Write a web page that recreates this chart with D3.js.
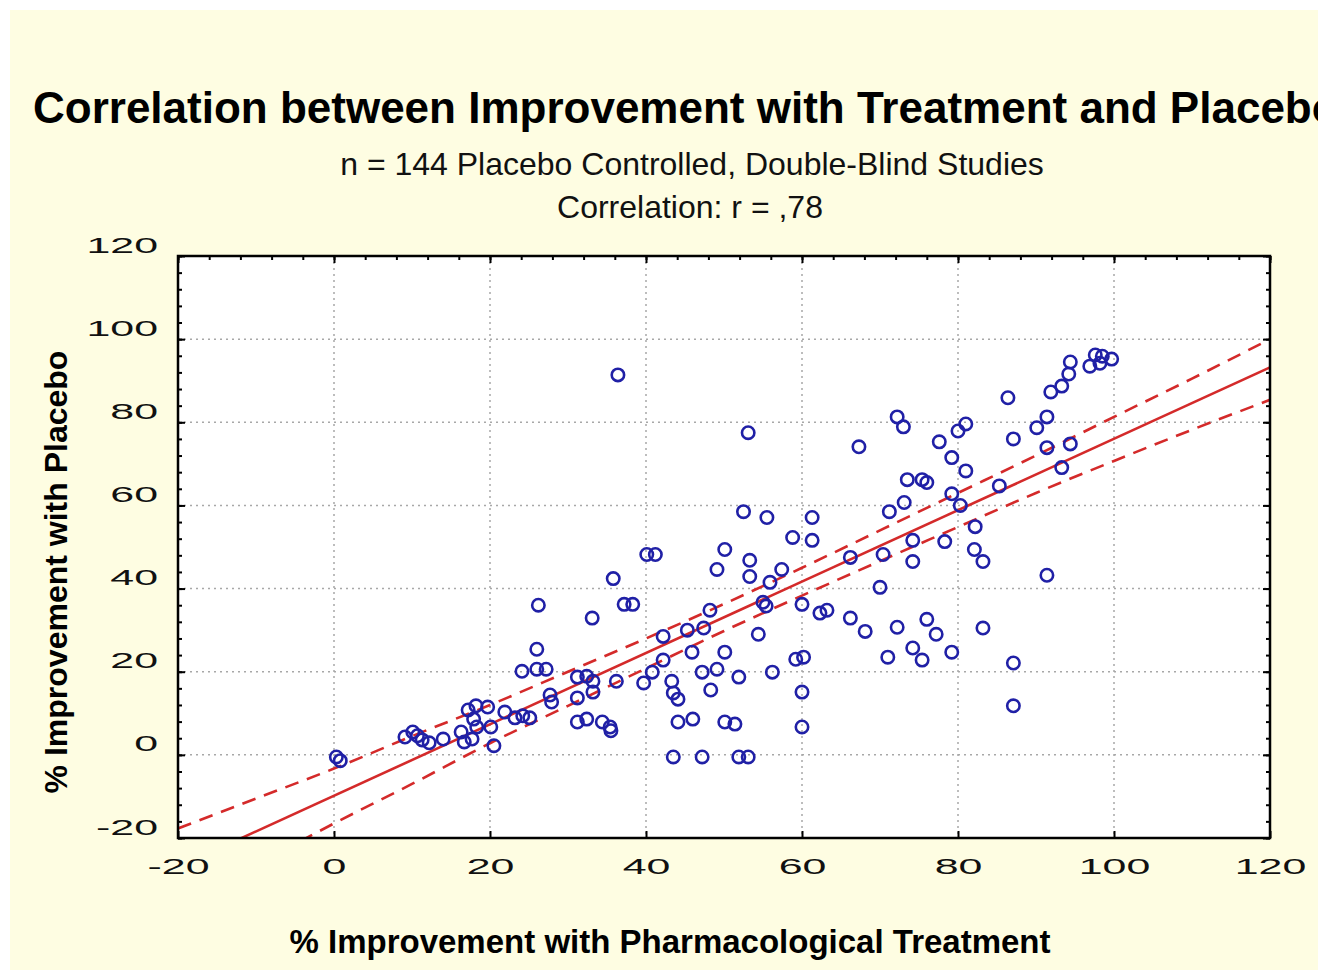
<!DOCTYPE html>
<html>
<head>
<meta charset="utf-8">
<script src="https://cdn.jsdelivr.net/npm/d3@7"></script>
<style>
  body { margin: 0; background: #fff; }
  svg { display: block; }
  text { font-family: "Liberation Sans", Arial, sans-serif; }
</style>
</head>
<body>
<svg id="chart" width="1332" height="970"></svg>
<script>
// % improvement with treatment (x) and with placebo (y)
var treatment = [0.3, 0.8, 9.1, 10.1, 10.7, 11.3, 12.2, 14.0, 16.3, 16.7, 17.2, 17.7, 17.9, 18.2, 18.3, 19.7,
  20.1, 20.5, 21.9, 23.2, 24.2, 25.1, 24.1, 26.0, 27.2, 26.0, 26.2, 27.7, 27.9,
  31.2, 32.4, 33.2, 33.2, 31.2, 31.2, 32.4, 34.4, 35.4, 35.5, 36.2, 35.8, 33.1, 37.2, 38.3, 36.4,
  40.1, 41.2, 39.7, 40.8, 42.2, 42.2, 43.3, 43.5, 44.1, 45.3, 47.4, 48.2, 45.9, 47.2, 49.1, 48.3,
  50.1, 44.1, 46.0, 50.1, 51.4, 43.5, 47.2, 51.9, 53.1, 49.1, 50.1,
  51.9, 53.1, 52.5, 55.5, 53.3, 53.3, 57.4, 55.9, 55.0, 55.4, 54.4, 56.2, 58.8, 59.2, 60.2, 60.0, 60.0, 60.0,
  61.3, 61.3, 62.3, 63.2, 66.2, 66.2, 67.3, 68.1, 70.0,
  70.4, 71.2, 71.0, 72.2, 72.2, 73.0, 73.5, 73.1, 74.2, 74.2, 74.2, 75.4, 75.4, 76.0, 76.0, 77.2, 77.6,
  78.3, 79.2, 79.2, 79.2,
  80.0, 81.0, 81.0, 80.3, 82.2, 82.1, 83.2, 83.2, 85.3, 86.4, 87.1, 87.1, 87.1, 90.1, 91.4, 91.4, 91.4,
  91.9, 93.3, 93.3, 94.4, 94.2, 94.4, 96.9, 97.6, 98.5, 98.2, 99.7];
var placebo = [-0.5, -1.4, 4.3, 5.5, 4.6, 3.6, 2.9, 3.8, 5.5, 3.1, 10.8, 3.8, 8.6, 11.8, 6.7, 11.5,
  6.7, 2.2, 10.3, 8.9, 9.4, 8.9, 20.1, 20.6, 20.6, 25.4, 36.0, 14.4, 12.7,
  18.7, 18.9, 17.7, 15.1, 13.7, 7.9, 8.6, 7.9, 6.7, 5.8, 17.7, 42.4, 32.9, 36.2, 36.2, 91.4,
  48.2, 48.2, 17.3, 19.9, 22.8, 28.5, 17.7, 14.9, 13.4, 30.0, 30.5, 34.8, 24.7, 19.9, 20.6, 15.6,
  24.7, 7.9, 8.6, 7.9, 7.4, -0.5, -0.5, -0.5, -0.5, 44.6, 49.4,
  18.7, 77.5, 58.5, 57.1, 46.8, 42.9, 44.6, 41.5, 36.7, 35.8, 29.0, 19.9, 52.3, 23.0, 23.5, 36.2, 15.1, 6.7,
  57.1, 51.6, 34.1, 34.8, 47.5, 32.9, 74.1, 29.7, 40.3,
  48.2, 58.5, 23.5, 30.7, 81.3, 78.9, 66.2, 60.7, 51.6, 46.5, 25.7, 22.8, 66.2, 65.5, 32.6, 29.0, 75.3,
  51.3, 71.5, 62.8, 24.7,
  77.9, 79.6, 68.3, 60.0, 54.9, 49.4, 46.5, 30.5, 64.7, 85.9, 76.0, 22.1, 11.8, 78.7, 81.3, 73.9, 43.2,
  87.3, 88.7, 69.1, 74.8, 91.6, 94.5, 93.5, 96.2, 95.9, 94.2, 95.2];

// regression line and its confidence band
var fitX = [-20, 120];
var fitY = [-27.0, 93.2];
var bandX = [-20, -10, 0, 10, 20, 30, 40, 50, 60, 70, 80, 90, 100, 110, 120];
var bandUpper = [-17.7, -10.5, -3.3, 4.5, 12.0, 20.0, 28.0, 36.3, 45.0, 54.0, 63.0, 72.0, 81.3, 90.5, 100.0];
var bandLower = [-36.5, -26.5, -16.5, -7.0, 2.8, 11.8, 20.8, 29.8, 38.3, 46.6, 54.8, 63.0, 70.7, 78.2, 85.4];

var xTicks = [-20, 0, 20, 40, 60, 80, 100, 120];
var yTicks = [-20, 0, 20, 40, 60, 80, 100, 120];

(function () {
  var svg = d3.select("#chart");
  var H = 970;
  var pl = 178, pr = 1270, pt = 256, pb = 838;

  var x = d3.scaleLinear().domain([-20, 120]).range([pl, pr]);
  var y = d3.scaleLinear().domain([-20, 120]).range([pb, pt]);

  var defs = svg.append("defs");
  defs.append("clipPath").attr("id", "panelClip")
    .append("rect").attr("x", 10).attr("y", 10).attr("width", 1308).attr("height", H - 10);
  defs.append("clipPath").attr("id", "plotClip")
    .append("rect").attr("x", pl).attr("y", pt).attr("width", pr - pl).attr("height", pb - pt);

  // cream panel
  svg.append("rect").attr("x", 10).attr("y", 10).attr("width", 1308).attr("height", H - 10)
    .attr("fill", "#fefde2");

  // title runs past the panel edge in the original, so it is clipped there
  var panel = svg.append("g").attr("clip-path", "url(#panelClip)");
  panel.append("text").attr("x", 33).attr("y", 123)
    .attr("font-size", 44).attr("font-weight", "bold").attr("fill", "#000")
    .text("Correlation between Improvement with Treatment and Placebo");
  panel.append("text").attr("x", 692).attr("y", 175).attr("text-anchor", "middle")
    .attr("font-size", 32).attr("fill", "#111")
    .text("n = 144 Placebo Controlled, Double-Blind Studies");
  panel.append("text").attr("x", 690).attr("y", 218).attr("text-anchor", "middle")
    .attr("font-size", 32).attr("fill", "#111")
    .text("Correlation: r = ,78");

  // plot area
  svg.append("rect").attr("x", pl).attr("y", pt).attr("width", pr - pl).attr("height", pb - pt)
    .attr("fill", "#fff");

  var grid = svg.append("g").attr("stroke", "#a8a8a8").attr("stroke-width", 1.5).attr("stroke-dasharray", "2,4");
  grid.selectAll("line.gx").data(xTicks.slice(1, -1)).enter().append("line")
    .attr("x1", function (d) { return x(d); }).attr("x2", function (d) { return x(d); })
    .attr("y1", pt).attr("y2", pb);
  grid.selectAll("line.gy").data(yTicks.slice(1, -1)).enter().append("line")
    .attr("y1", function (d) { return y(d); }).attr("y2", function (d) { return y(d); })
    .attr("x1", pl).attr("x2", pr);

  var plot = svg.append("g").attr("clip-path", "url(#plotClip)");
  var red = "#d42a2a";

  var curve = d3.line().curve(d3.curveMonotoneX)
    .x(function (d) { return x(d[0]); }).y(function (d) { return y(d[1]); });
  [bandUpper, bandLower].forEach(function (b) {
    plot.append("path").attr("d", curve(d3.zip(bandX, b)))
      .attr("fill", "none").attr("stroke", red).attr("stroke-width", 2.6).attr("stroke-dasharray", "14,9");
  });
  plot.append("path").attr("d", curve(d3.zip(fitX, fitY)))
    .attr("fill", "none").attr("stroke", red).attr("stroke-width", 2.6);

  plot.selectAll("circle").data(d3.zip(treatment, placebo)).enter().append("circle")
    .attr("cx", function (d) { return x(d[0]); }).attr("cy", function (d) { return y(d[1]); })
    .attr("r", 6.2).attr("fill", "none").attr("stroke", "#2020a6").attr("stroke-width", 2.6);

  // frame
  svg.append("rect").attr("x", pl).attr("y", pt).attr("width", pr - pl).attr("height", pb - pt)
    .attr("fill", "none").attr("stroke", "#000").attr("stroke-width", 2.5);

  // ticks (inward)
  var minor = d3.range(-20, 121, 4);
  function tickAxis(axis, tx, ty) {
    var g = svg.append("g").attr("transform", "translate(" + tx + "," + ty + ")").call(axis);
    g.select(".domain").remove();
    g.selectAll("line").attr("stroke", "#000").attr("stroke-width", 2);
    return g;
  }
  tickAxis(d3.axisTop(x).tickValues(minor).tickSize(-4).tickFormat(""), 0, pt);
  tickAxis(d3.axisTop(x).tickValues(xTicks).tickSize(-7).tickFormat(""), 0, pt);
  tickAxis(d3.axisLeft(y).tickValues(minor).tickSize(-4).tickFormat(""), pl, 0);
  tickAxis(d3.axisRight(y).tickValues(minor).tickSize(-4).tickFormat(""), pr, 0);
  tickAxis(d3.axisRight(y).tickValues(yTicks).tickSize(-7).tickFormat(""), pr, 0);

  // tick labels are drawn stretched sideways, as in the original
  var sx = 1.95;
  var fmt = function (d) { return String(d); };
  var yAx = tickAxis(d3.axisLeft(y).tickValues(yTicks).tickSize(-7).tickFormat(fmt), pl, 0);
  yAx.selectAll("text")
    .attr("x", -20 / sx).attr("dy", "-0.18em")
    .attr("transform", "scale(" + sx + ",1)")
    .attr("font-size", 22).attr("fill", "#111").attr("font-family", "'Liberation Sans', Arial, sans-serif");

  var xAx = tickAxis(d3.axisBottom(x).tickValues(xTicks).tickSize(-7).tickFormat(fmt), 0, pb);
  xAx.selectAll("text")
    .attr("x", 0).attr("y", 0).attr("dy", "1.65em")
    .attr("transform", "scale(" + sx + ",1)")
    .attr("font-size", 22).attr("fill", "#111").attr("font-family", "'Liberation Sans', Arial, sans-serif");

  // axis titles
  svg.append("text").attr("x", 670).attr("y", 953).attr("text-anchor", "middle")
    .attr("font-size", 33).attr("font-weight", "bold").attr("fill", "#000")
    .text("% Improvement with Pharmacological Treatment");
  svg.append("text").attr("transform", "translate(67,572) rotate(-90)").attr("text-anchor", "middle")
    .attr("font-size", 32).attr("font-weight", "bold").attr("fill", "#000")
    .text("% Improvement with Placebo");
})();
</script>
</body>
</html>
